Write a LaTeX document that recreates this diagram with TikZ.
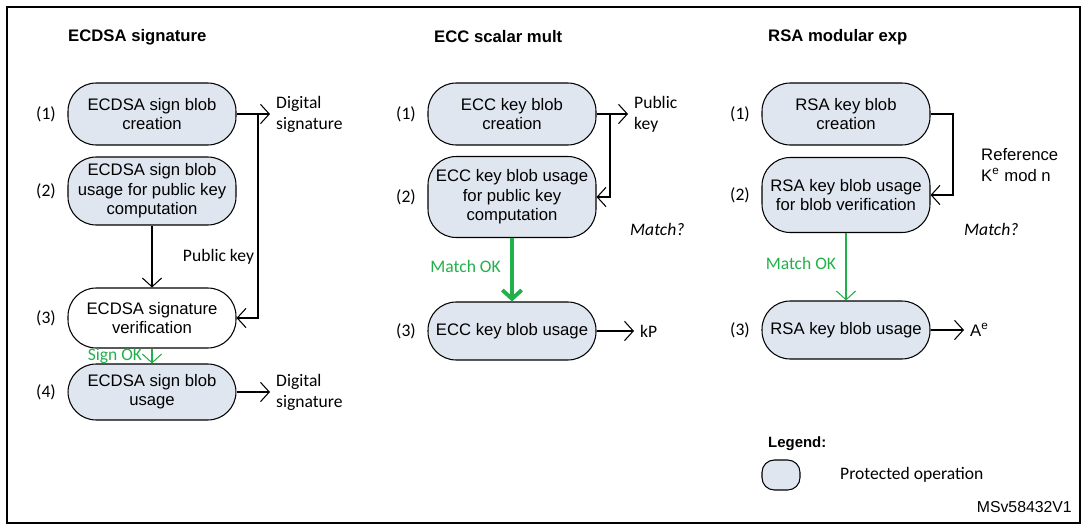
\documentclass[tikz,border=0pt]{standalone}
\usepackage{fontspec}
\setmainfont{Liberation Sans}
\newfontfamily\calfont{Carlito}
\usetikzlibrary{positioning,arrows.meta}
\definecolor{opfill}{HTML}{DFE6F0}
\definecolor{okgreen}{HTML}{22B04B}
\tikzset{
  op/.style={draw, line width=0.6, rounded corners=16pt, fill=opfill, minimum width=3.36cm,
    minimum height=1.24cm, align=center, font=\fontsize{9.5}{11}\selectfont},
  plain op/.style={op, fill=white},
  stepno/.style={font=\calfont\fontsize{10}{11}\selectfont},
  lbl/.style={font=\calfont\fontsize{10}{12}\selectfont, align=left, anchor=west},
  head/.style={font=\bfseries\fontsize{9.5}{11}\selectfont, anchor=west},
  flow/.style={-{Straight Barb[length=5pt, width=11pt]}, line width=0.6},
  okflow/.style={flow, draw=okgreen},
  oklbl/.style={font=\calfont\fontsize{10}{11}\selectfont, text=okgreen}
}
\begin{document}
\begin{tikzpicture}[x=0.02cm, y=-0.02cm]
\useasboundingbox (0,0) rectangle (1085,527);
\draw[line width=1] (7,7) rectangle (1080,523);

% ECDSA signature
\node[head] (h1) at (62,37) {ECDSA signature};
\node[op] (a1) at (152,114) {ECDSA sign blob\\creation};
\node[op, minimum height=1.36cm] (a2) at (152,191) {ECDSA sign blob\\usage for public key\\computation};
\node[plain op, minimum height=1.2cm] (a3) at (152,318) {ECDSA signature\\verification};
\node[op, minimum height=1.12cm] (a4) at (152,392) {ECDSA sign blob\\usage};
\node[stepno] (n11) at (46,114) {(1)};
\node[stepno] (n12) at (46,191) {(2)};
\node[stepno] (n13) at (46,318) {(3)};
\node[stepno] (n14) at (46,392) {(4)};
\node[lbl] (s1) at (270,114) {Digital\\signature};
\node[lbl] (s4) at (270,392) {Digital\\signature};
\coordinate (t1) at (258,114);
\coordinate (t3) at (258,318);
\draw[flow] (a1.east) -- (s1.west);
\draw[flow] (t1) -- (t3) -- (a3.east);
\draw[flow] (a2.south) -- node[lbl, right=14pt] {Public key} (a3.north);
\draw[okflow] (a3.south) -- node[oklbl, left=2pt] {Sign OK} (a4.north);
\draw[flow] (a4.east) -- (s4.west);

% ECC scalar mult
\node[head] (h2) at (428,37) {ECC scalar mult};
\node[op] (b1) at (512,114) {ECC key blob\\creation};
\node[op, minimum height=1.62cm] (b2) at (512,197) {ECC key blob usage\\for public key\\computation};
\node[op, minimum height=1.16cm] (b3) at (512,331) {ECC key blob usage};
\node[stepno] (n21) at (406,114) {(1)};
\node[stepno] (n22) at (406,197) {(2)};
\node[stepno] (n23) at (406,331) {(3)};
\node[lbl] (pk) at (628,114) {Public\\key};
\node[lbl] (kp) at (634,331) {kP};
\node[lbl, font=\calfont\itshape\fontsize{10}{11}\selectfont] (m2) at (624,229) {Match?};
\coordinate (u1) at (610,114);
\coordinate (u2) at (610,197);
\draw[flow] (b1.east) -- (pk.west);
\draw[flow] (u1) -- (u2) -- (b2.east);
\draw[okflow, line width=2.2] (b2.south) -- node[oklbl, left=2pt, pos=0.45] {Match OK} (b3.north);
\draw[flow] (b3.east) -- (kp.west);

% RSA modular exp
\node[head] (h3) at (762,37) {RSA modular exp};
\node[op] (c1) at (846,114) {RSA key blob\\creation};
\node[op, minimum height=1.5cm] (c2) at (846,195) {RSA key blob usage\\for blob verification};
\node[op, minimum height=1.16cm] (c3) at (846,330) {RSA key blob usage};
\node[stepno] (n31) at (740,114) {(1)};
\node[stepno] (n32) at (740,195) {(2)};
\node[stepno] (n33) at (740,330) {(3)};
\node[lbl, font=\fontsize{9.5}{11.5}\selectfont] (ref) at (975,165) {Reference\\K\textsuperscript{e} mod n};
\node[lbl, font=\calfont\itshape\fontsize{10}{11}\selectfont] (m3) at (958,229) {Match?};
\node[lbl, font=\fontsize{9.5}{11}\selectfont] (ae) at (964,330) {A\textsuperscript{e}};
\coordinate (v1) at (953,114);
\coordinate (v2) at (953,195);
\draw[flow] (c1.east) -- (v1) -- (v2) -- (c2.east);
\draw[okflow] (c2.south) -- node[oklbl, left=2pt, pos=0.45] {Match OK} (c3.north);
\draw[flow] (c3.east) -- (ae.west);

% legend
\node[head, font=\bfseries\fontsize{8.5}{10}\selectfont] (lg) at (762,444) {Legend:};
\node[op, minimum width=0.76cm, minimum height=0.6cm, rounded corners=7pt] (lbox) at (781,475) {};
\node[lbl] (ltext) at (834,475) {Protected operation};
\node[anchor=east, font=\fontsize{9}{10}\selectfont] (id) at (1078,507) {MSv58432V1};
\end{tikzpicture}
\end{document}
